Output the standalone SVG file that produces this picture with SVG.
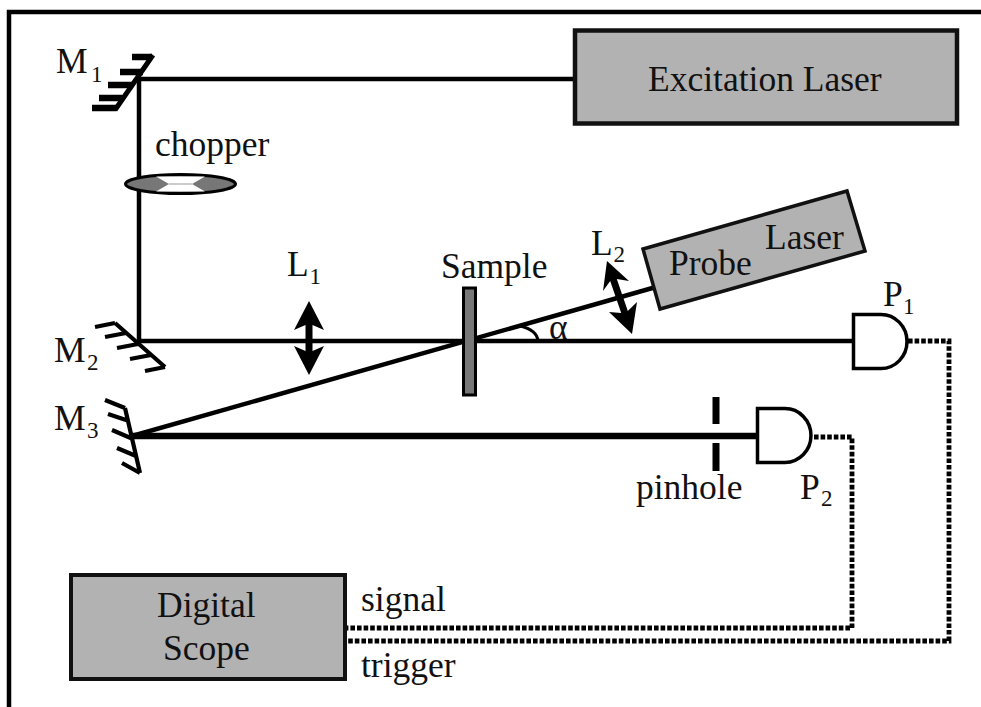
<svg xmlns="http://www.w3.org/2000/svg" width="981" height="707" viewBox="0 0 981 707">
<style>
text{font-family:"Liberation Serif","Times New Roman",serif;font-size:35.500px;fill:#111}
.sub{font-size:23px}
.box{fill:#b2b2b2;stroke:#111;stroke-width:3.500}
.beam{fill:none;stroke:#000;stroke-width:4.500}
.thick{fill:none;stroke:#000;stroke-width:6.500}
.dot{fill:none;stroke:#000;stroke-width:4.800;stroke-dasharray:4.600 2}
.m{fill:none;stroke:#000;stroke-width:4.200}
.det{fill:#fff;stroke:#000;stroke-width:3.500}
</style>
<rect width="981" height="707" fill="#fff"/>
<path d="M9 707V12H981" fill="none" stroke="#000" stroke-width="4.500"/>
<g id="connectors">
<path class="beam" d="M574 79H139V341H853"/>
<path class="beam" d="M132 436L656 287"/>
<path class="thick" d="M132 436H757"/>
<path class="dot" d="M814 437H852V628H345"/>
<path class="dot" d="M908 341H949V641H345"/>
<path d="M520 326Q537 330 538 341" fill="none" stroke="#000" stroke-width="3"/>
</g>
<g id="excitation-laser"><rect class="box" x="575" y="30.500" width="382" height="93" style="stroke-width:4.500"/><text x="648" y="91">Excitation Laser</text></g>
<g id="probe-laser"><path class="box" d="M643 249L847 191L865 251L660 309Z"/><text x="669" y="275">Probe</text><text x="765" y="249">Laser</text></g>
<g id="digital-scope"><rect class="box" x="71" y="575" width="274" height="104" style="stroke-width:4"/><text x="157" y="617">Digital</text><text x="163" y="660">Scope</text></g>
<g id="m1"><path d="M153 55L115 110" fill="none" stroke="#000" stroke-width="5"/><path d="M132 57H152M120 72H143M108 85H133M99 98H122M92 108H116" fill="none" stroke="#000" stroke-width="6.500"/><text x="56" y="73">M</text><text class="sub" x="91" y="82">1</text></g>
<g id="m2"><path class="m" d="M115 323L165 367M95 327L115 323M105 337L126 333M117 348L138 344M130 359L151 355M145 371L165 367"/><text x="54" y="362">M</text><text class="sub" x="87" y="370">2</text></g>
<g id="m3"><path class="m" d="M125 408L140 473M105 400L125 408M108 414L129 421M112 430L133 439M117 448L136 456M122 463L140 473"/><text x="54" y="430">M</text><text class="sub" x="87" y="438">3</text></g>
<g id="chopper"><ellipse cx="180.500" cy="184" rx="55" ry="9.500" fill="#777" stroke="#000" stroke-width="3"/><path d="M156 176.500H205L192 184L205 191.500H156L169 184Z" fill="#fff"/><path d="M169 184H192" stroke="#ccc" stroke-width="2" fill="none"/><text x="155" y="156">chopper</text></g>
<g id="l1"><path d="M309 301L324 330L312.500 325V351L324 346L309 375L294 346L305.500 351V325L294 330Z" fill="#000"/><text x="287" y="276">L</text><text class="sub" x="309.500" y="284">1</text></g>
<g id="l2"><path d="M607 261L629 281L616.800 278.900L627.800 310.900L637 302L632 334L609 312L621.200 313.100L610.200 281.100L603 291Z" fill="#000"/><text x="591" y="255">L</text><text class="sub" x="613.500" y="262">2</text></g>
<g id="sample"><rect x="463.500" y="288" width="12" height="107" fill="#777" stroke="#000" stroke-width="3"/><text x="441" y="278">Sample</text></g>
<text x="549" y="339">α</text>
<g id="p1"><path class="det" d="M853.500 314.500H881A26 27 0 0 1 881 368.500H853.500Z"/><text x="883" y="306">P</text><text class="sub" x="903" y="314">1</text></g>
<g id="p2"><path class="det" d="M757.500 408.500H785A26 27 0 0 1 785 462.500H757.500Z"/><text x="800" y="499">P</text><text class="sub" x="821" y="506">2</text></g>
<g id="pinhole"><path d="M716 397V424M716 443V471" stroke="#000" stroke-width="7" fill="none"/><text x="636" y="499">pinhole</text></g>
<text x="361" y="611">signal</text>
<text x="361" y="677">trigger</text>
</svg>
